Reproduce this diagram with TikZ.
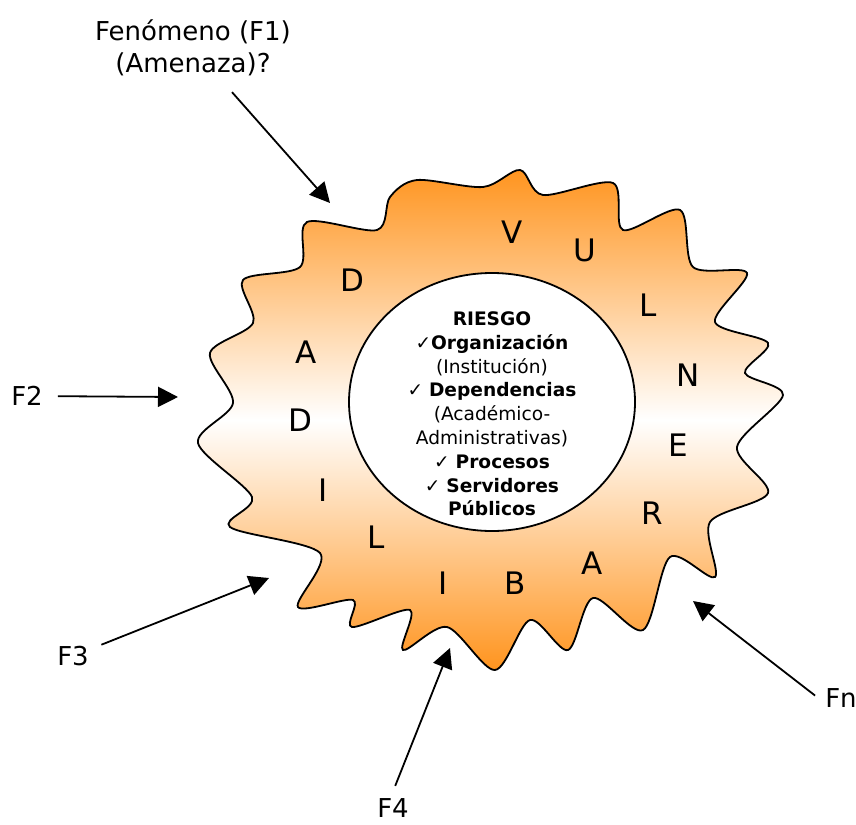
\documentclass[tikz,border=0pt]{standalone}
\usepackage{fontspec}
\setmainfont{DejaVu Sans}
\usepackage{tikz}
\usetikzlibrary{arrows.meta}
\definecolor{naranja}{RGB}{255,148,30}

\begin{document}
\begin{tikzpicture}[x=0.5pt,y=-0.5pt,
  letra/.style={font=\fontsize{15.5}{18}\selectfont},
  etiq/.style={font=\fontsize{13}{16}\selectfont, align=center},
  flecha/.style={line width=0.9pt, -{Triangle[length=10pt,width=10pt]}}]
\useasboundingbox (0,0) rectangle (856,824);

% borde ondulado
\shadedraw[top color=naranja, bottom color=naranja, middle color=white, line width=0.9pt]
  plot[smooth cycle, tension=0.5] coordinates {
  (520,170) (543,195) (613,183) (623,230) (680,210) (693,267) (747,273)
  (715,322) (768,343) (745,373) (783,395) (737,447) (768,493) (710,522)
  (715,577) (670,557) (643,630) (593,598) (568,650) (530,620) (495,670)
  (447,627) (403,650) (410,610) (352,627) (353,600) (298,607) (320,553)
  (230,527) (252,497) (198,443) (233,403) (210,353) (253,323) (243,280)
  (300,267) (307,222) (377,230) (390,197) (417,180) (483,187)};

\draw[line width=0.9pt, fill=white] (492,402) ellipse [x radius=71.5pt, y radius=64.5pt];
\node[font=\fontsize{9.3}{11.9}\selectfont, align=center] (riesgo) at (492,414) {
\textbf{RIESGO}\\
✓\textbf{Organización}\\
(Institución)\\
✓ \textbf{Dependencias}\\
(Académico-\\
Administrativas)\\
✓ \textbf{Procesos}\\
✓ \textbf{Servidores}\\
\textbf{Públicos}};

% letras
\node[letra] (v) at (512,232) {V};
\node[letra] (u) at (585,250) {U};
\node[letra] (l1) at (648,305) {L};
\node[letra] (n) at (688,375) {N};
\node[letra] (e) at (678,445) {E};
\node[letra] (r) at (652,513) {R};
\node[letra] (a1) at (592,563) {A};
\node[letra] (b) at (515,583) {B};
\node[letra] (i1) at (443,583) {I};
\node[letra] (l2) at (376,537) {L};
\node[letra] (i2) at (323,490) {I};
\node[letra] (d1) at (300,420) {D};
\node[letra] (a2) at (306,352) {A};
\node[letra] (d2) at (352,280) {D};

% fenomenos
\node[etiq] (f1) at (193,48) {Fenómeno (F1)\\(Amenaza)?};
\node[etiq] (f2) at (27,396) {F2};
\node[etiq] (f3) at (73,656) {F3};
\node[etiq] (f4) at (393,808) {F4};
\node[etiq] (fn) at (841,698) {Fn};

\coordinate (t1) at (330,203);
\coordinate (t2) at (178,397);
\coordinate (t3) at (269,578);
\coordinate (t4) at (450,648);
\coordinate (tn) at (693,601);

\draw[flecha, shorten <=6pt] (f1) -- (t1);
\draw[flecha, shorten <=4pt] (f2) -- (t2);
\draw[flecha, shorten <=3pt] (f3) -- (t3);
\draw[flecha, shorten <=3pt] (f4.north) -- (t4);
\draw[flecha, shorten <=2pt] (fn.west) -- (tn);
\end{tikzpicture}
\end{document}
